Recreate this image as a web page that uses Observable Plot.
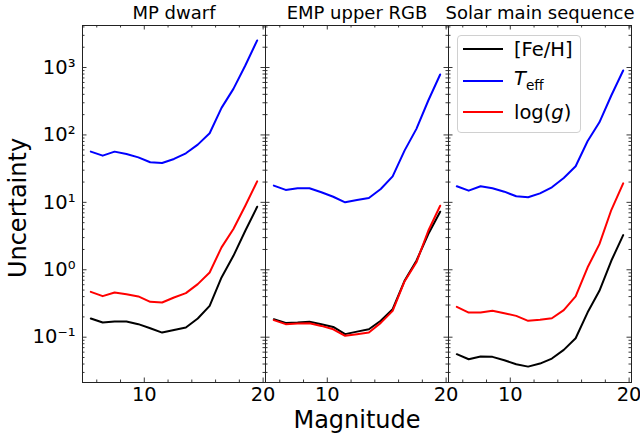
<!DOCTYPE html>
<html><head><meta charset="utf-8">
<script src="https://cdn.jsdelivr.net/npm/d3@7"></script>
<script src="https://cdn.jsdelivr.net/npm/@observablehq/plot@0.6"></script>
<style>
body{margin:0;background:#fff;}
#wrap{position:relative;width:640px;height:435px;font-family:"DejaVu Sans",sans-serif;}
.legend{position:absolute;left:457px;top:35px;width:124px;height:98px;border:1px solid #d0d0d0;border-radius:4px;background:rgba(255,255,255,0.8);box-sizing:border-box;}
.row{position:absolute;left:463px;height:30px;display:flex;align-items:center;font-size:19.5px;color:#000;white-space:nowrap;line-height:1;}
.sw{display:inline-block;width:40px;height:2px;margin-right:11px;}
sub{font-size:0.7em;vertical-align:-0.35em;}
</style></head><body><div id="wrap"></div>
<script>
const panels = ["MP dwarf", "EMP upper RGB", "Solar main sequence"];
const seriesNames = ["[Fe/H]", "Teff", "log(g)"];
const seriesColors = ["#000000", "#0000ff", "#ff0000"];
const magnitudes = [5.5, 6.5, 7.5, 8.5, 9.5, 10.5, 11.5, 12.5, 13.5, 14.5, 15.5, 16.5, 17.5, 18.5, 19.5];

const mpDwarfFeH  = [0.189, 0.165, 0.171, 0.171, 0.156, 0.136, 0.117, 0.128, 0.139, 0.189, 0.292, 0.77, 1.61, 3.79, 8.6];
const mpDwarfTeff = [56.5, 49.3, 56.5, 52.2, 46.5, 39.3, 38.4, 44, 53.4, 71.8, 106, 252, 482, 1070, 2520];
const mpDwarfLogg = [0.471, 0.406, 0.46, 0.435, 0.402, 0.335, 0.327, 0.388, 0.45, 0.612, 0.912, 2.15, 4.02, 8.9, 20.5];

const empRgbFeH  = [0.185, 0.163, 0.165, 0.169, 0.156, 0.142, 0.111, 0.121, 0.131, 0.175, 0.261, 0.687, 1.36, 3.39, 7.26];
const empRgbTeff = [17.7, 15.3, 16.2, 16.2, 14.1, 12.1, 10.0, 10.8, 11.6, 15.8, 24.3, 58.5, 123, 324, 787];
const empRgbLogg = [0.179, 0.156, 0.160, 0.161, 0.147, 0.131, 0.105, 0.111, 0.117, 0.163, 0.246, 0.671, 1.29, 3.79, 8.9];

const solarMsFeH  = [0.056, 0.0471, 0.0516, 0.0511, 0.0455, 0.0397, 0.0366, 0.0406, 0.0482, 0.0649, 0.0966, 0.232, 0.487, 1.36, 3.27];
const solarMsTeff = [17.3, 14.9, 17.3, 16.2, 14.4, 12.3, 11.9, 13.6, 16.7, 23.0, 34.3, 80.5, 154, 384, 903];
const solarMsLogg = [0.282, 0.232, 0.232, 0.246, 0.227, 0.207, 0.175, 0.181, 0.191, 0.252, 0.402, 1.08, 2.40, 7.69, 19.1];

const yTickValues = [0.1, 1, 10, 100, 1000];
const xTickValues = [10, 20];
const xMinorValues = [6, 8, 12, 14, 16, 18];

const panelSeries = [
  [mpDwarfFeH, mpDwarfTeff, mpDwarfLogg],
  [empRgbFeH, empRgbTeff, empRgbLogg],
  [solarMsFeH, solarMsTeff, solarMsLogg]
];
const rows = [];
panels.forEach((p, pi) => seriesNames.forEach((s, si) =>
  magnitudes.forEach((m, i) => rows.push({panel: p, series: s, mag: m, value: panelSeries[pi][si][i]}))));

const W = 640, H = 435, mL = 82, mR = 9, mT = 25, mB = 53;
const xDomain = [4.8, 20.2];
const yDomain = [Math.pow(10, -1.672), Math.pow(10, 3.623)];
const facetW = (W - mL - mR) / 3, plotH = H - mT - mB;
const pxX = facetW / (xDomain[1] - xDomain[0]);
const pxDec = plotH / (Math.log10(yDomain[1]) - Math.log10(yDomain[0]));
const majLen = 4.5, minLen = 2.5;

const yMinorValues = [];
for (let e = -2; e <= 3; e++) for (let m = 2; m <= 9; m++) {
  const v = m * Math.pow(10, e);
  if (v > yDomain[0] && v < yDomain[1]) yMinorValues.push(v);
}

const sup = {"-": "\u207B", "0": "\u2070", "1": "\u00B9", "2": "\u00B2", "3": "\u00B3", "4": "\u2074"};
const fmtPow = v => "10" + String(Math.round(Math.log10(v))).split("").map(c => sup[c]).join("");

const tickStroke = "#222";
function yTicks(vals, len) {
  return [
    Plot.ruleY(vals, {y: d => d, x1: xDomain[0], x2: xDomain[0] + len / pxX, stroke: tickStroke, strokeWidth: 0.9}),
    Plot.ruleY(vals, {y: d => d, x1: xDomain[1] - len / pxX, x2: xDomain[1], stroke: tickStroke, strokeWidth: 0.9})
  ];
}
function xTicks(vals, len) {
  const f = Math.pow(10, len / pxDec);
  return [
    Plot.ruleX(vals, {x: d => d, y1: yDomain[0], y2: yDomain[0] * f, stroke: tickStroke, strokeWidth: 0.9}),
    Plot.ruleX(vals, {x: d => d, y1: yDomain[1] / f, y2: yDomain[1], stroke: tickStroke, strokeWidth: 0.9})
  ];
}

const chart = Plot.plot({
  width: W, height: H,
  marginLeft: mL, marginRight: mR, marginTop: mT, marginBottom: mB,
  style: {fontFamily: "DejaVu Sans", fontSize: "19.5px", color: "#000", background: "white", overflow: "visible"},
  fx: {domain: panels, padding: 0, label: null},
  x: {domain: xDomain, label: null},
  y: {type: "log", domain: yDomain, label: null},
  color: {domain: seriesNames, range: seriesColors},
  marks: [
    ...yTicks(yTickValues, majLen),
    ...yTicks(yMinorValues, minLen),
    ...xTicks(xTickValues, majLen),
    ...xTicks(xMinorValues, minLen),
    Plot.line(rows, {x: "mag", y: "value", z: "series", stroke: "series", fx: "panel", strokeWidth: 2}),
    Plot.frame({stroke: "#222", strokeWidth: 1}),
    Plot.axisY({ticks: yTickValues, tickSize: 0, tickPadding: 7, tickFormat: fmtPow, fontSize: 19.5, label: null}),
    Plot.axisX({ticks: xTickValues, tickSize: 0, tickPadding: 5, tickFormat: d => String(d), fontSize: 19.5, label: null}),
    Plot.axisFx({anchor: "top", tickSize: 0, tickPadding: 6.7, fontSize: 18, label: null}),
    Plot.text(["Uncertainty"], {text: d => d, fx: () => panels[0], frameAnchor: "left", textAnchor: "middle", dx: -57, dy: 4, rotate: -90, lineAnchor: "bottom", fontSize: 24, fill: "#000"}),
    Plot.text(["Magnitude"], {text: d => d, fx: () => panels[1], frameAnchor: "bottom", textAnchor: "middle", dy: 45.7, lineAnchor: "bottom", fontSize: 24, fill: "#000"})
  ]
});

const wrap = document.getElementById("wrap");
wrap.appendChild(chart);

const legend = document.createElement("div");
legend.className = "legend";
wrap.appendChild(legend);
const legendLabels = ["[Fe/H]", "<i>T</i><sub>eff</sub>", "log(<i>g</i>)"];
const rowCenters = [49.3, 80.5, 112.3];
seriesNames.forEach((s, i) => {
  const r = document.createElement("div");
  r.className = "row";
  r.style.top = (rowCenters[i] - 15) + "px";
  r.innerHTML = `<span class="sw" style="background:${seriesColors[i]}"></span><span>${legendLabels[i]}</span>`;
  wrap.appendChild(r);
});
</script></body></html>
